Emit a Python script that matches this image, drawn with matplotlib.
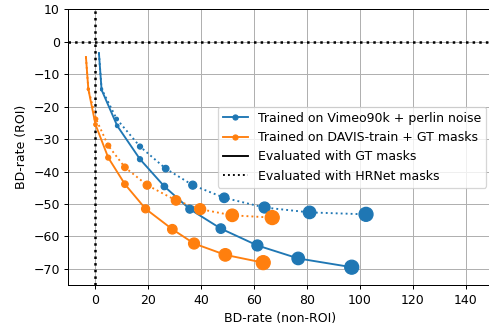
import matplotlib
matplotlib.use("Agg")
import matplotlib.pyplot as plt
import numpy as np

# 讀圖估計的數值 (x = BD-rate non-ROI, y = BD-rate ROI)
vimeo_gt_x = [1.5, 2.5, 8.4, 17.0, 26.2, 35.8, 47.5, 61.3, 76.7, 96.9]
vimeo_gt_y = [-3.5, -14.8, -25.9, -36.2, -44.6, -51.6, -57.6, -62.8, -66.8, -69.5]
vimeo_hr_x = [1.5, 2.5, 8.2, 17.0, 26.7, 36.9, 48.8, 64.0, 81.0, 102.3]
vimeo_hr_y = [-3.5, -14.5, -23.8, -32.3, -39.1, -44.2, -48.1, -51.1, -52.6, -53.2]

davis_gt_x = [-3.4, -2.5, 0.2, 5.0, 11.3, 19.1, 29.2, 37.4, 49.2, 63.5]
davis_gt_y = [-4.7, -14.6, -25.5, -35.7, -43.9, -51.5, -57.8, -62.2, -65.7, -68.1]
davis_hr_x = [-3.4, -2.5, 0.4, 5.0, 11.3, 19.7, 30.6, 39.7, 51.8, 66.9]
davis_hr_y = [-4.7, -14.6, -23.8, -32.0, -38.7, -44.2, -48.9, -51.6, -53.5, -54.2]

labels = ["Trained on Vimeo90k + perlin noise",
          "Trained on DAVIS-train + GT masks",
          "Evaluated with GT masks",
          "Evaluated with HRNet masks"]

BLUE = "#1f77b4"
ORANGE = "#ff7f0e"

DPI = 90
fig = plt.figure(figsize=(489 / DPI, 325 / DPI), dpi=DPI)
ax = fig.add_axes([0.140, 0.123, 0.867, 0.848])

# marker 大小隨點的順序變大
n = len(vimeo_gt_x)
sizes = (np.arange(n) * 1.2 + 0.4) ** 2

ax.axvline(0, color="black", ls=":", lw=2, zorder=1)
ax.axhline(0, color="black", ls=":", lw=2, zorder=1)

for xs, ys, c, ls in [(vimeo_gt_x, vimeo_gt_y, BLUE, "-"),
                      (vimeo_hr_x, vimeo_hr_y, BLUE, ":"),
                      (davis_gt_x, davis_gt_y, ORANGE, "-"),
                      (davis_hr_x, davis_hr_y, ORANGE, ":")]:
    ax.plot(xs, ys, color=c, ls=ls, lw=1.5, zorder=2)
    ax.scatter(xs, ys, s=sizes, color=c, zorder=3)

# legend 用的假線
h1, = ax.plot([], [], color=BLUE, marker="o", ms=4, lw=1.5)
h2, = ax.plot([], [], color=ORANGE, marker="o", ms=4, lw=1.5)
h3, = ax.plot([], [], color="black", ls="-", lw=1.5)
h4, = ax.plot([], [], color="black", ls=":", lw=1.5)
ax.legend([h1, h2, h3, h4], labels, loc="center right", fontsize=10)

ax.set_xlim(-10, 150)
ax.set_ylim(-75, 10)
ax.set_xticks(np.arange(0, 141, 20))
ax.set_yticks(np.arange(-70, 11, 10))
ax.grid(True, color="#b0b0b0", lw=0.8)
ax.set_axisbelow(True)
ax.set_xlabel("BD-rate (non-ROI)")
ax.set_ylabel("BD-rate (ROI)")

fig.savefig("out.png", dpi=DPI)
